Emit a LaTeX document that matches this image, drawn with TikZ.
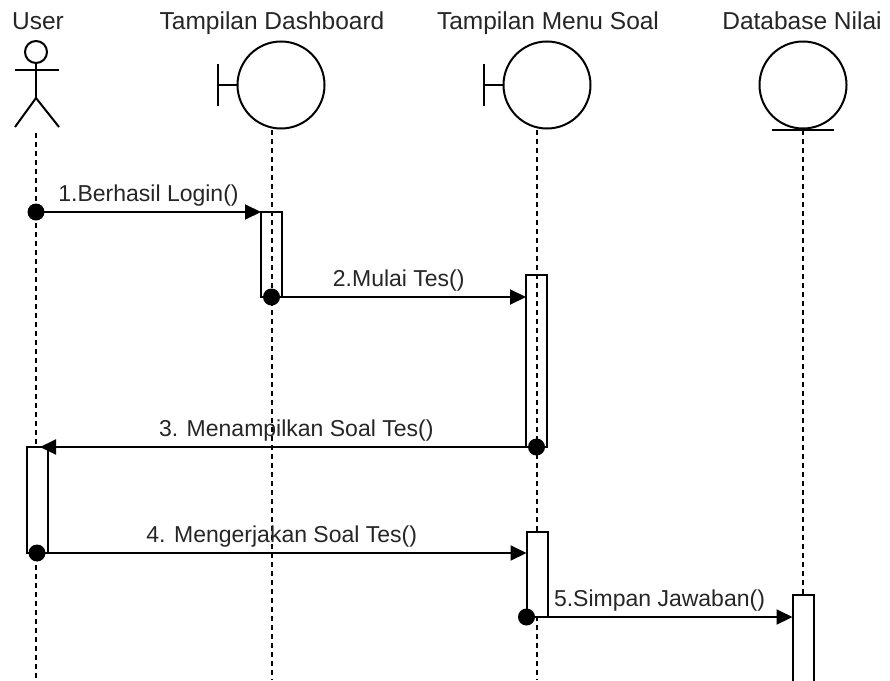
\documentclass[tikz,border=0pt]{standalone}
\usepackage{fontspec}
\setmainfont{Liberation Sans}
\usepackage{tikz}
\usetikzlibrary{arrows.meta}
\tikzset{headnode/.style = {anchor=base, inner sep=0pt, text=black!85, font=\fontsize{24.5}{28}\selectfont}}
\tikzset{lblnode/.style = {anchor=base, inner sep=0pt, yshift=11pt, text=black!85, font=\fontsize{23}{27}\selectfont}}
\tikzset{iconnode/.style = {draw, circle, line width=2pt, minimum size=87pt, inner sep=0pt}}
\tikzset{lifeline/.style = {line width=2pt, dash pattern=on 5pt off 4pt}}
\tikzset{actbox/.style = {draw, line width=2pt, minimum width=21pt, inner sep=0pt, outer sep=0pt}}
\tikzset{msg/.style = {line width=2pt, -{Triangle[length=16pt, width=15pt]}}}

\begin{document}
\begin{tikzpicture}[x=1pt, y=-1pt, line width=2pt]
    \clip (0,0) rectangle (890,680);
    \fill[white] (0,0) rectangle (890,680);

    % heads
    \node[headnode] (user) at (38, 29)  {User};
    \node[headnode] (dash) at (272, 29) {Tampilan Dashboard};
    \node[headnode] (menu) at (548, 29) {Tampilan Menu Soal};
    \node[headnode] (db)   at (802, 29) {Database Nilai};

    % actor
    \node[draw, circle, line width=2pt, minimum size=22pt, inner sep=0pt] (userhead) at (36, 52) {};
    \draw (15, 70) -- (59, 70);
    \draw (userhead.south) -- (36, 98);
    \draw (15, 127) -- (36, 98) -- (59, 127);

    % boundaries and entity
    \node[iconnode] (dashicon) at (281, 85) {};
    \draw (dashicon.west) -- ++(-19, 0) coordinate (dashbar);
    \draw ([yshift=21pt]dashbar) -- ([yshift=-21pt]dashbar);

    \node[iconnode] (menuicon) at (547, 85) {};
    \draw (menuicon.west) -- ++(-19, 0) coordinate (menubar);
    \draw ([yshift=21pt]menubar) -- ([yshift=-21pt]menubar);

    \node[iconnode] (dbicon) at (803, 85) {};
    \draw ([xshift=-31pt]dbicon.south) -- ([xshift=31pt]dbicon.south);

    % lifelines
    \coordinate (userlife) at (36, 133);
    \coordinate (dashlife) at (271.5, 130);
    \coordinate (menulife) at (537, 130);
    \coordinate (dblife)   at (803, 130);
    \draw[lifeline] (userlife) -- (36, 680);
    \draw[lifeline] (dashlife) -- (271.5, 680);
    \draw[lifeline] (menulife) -- (537, 680);
    \draw[lifeline] (dblife) -- (803, 680);

    % activations
    \node[actbox, minimum height=85pt] (dashact) at (271.5, 254.5) {};
    \node[actbox, minimum height=172pt] (menuact) at (536.5, 361) {};
    \node[actbox, fill=white, minimum height=106pt] (useract) at (37, 500) {};
    \node[actbox, fill=white, minimum height=85pt] (menuact2) at (537, 574.5) {};
    \node[actbox, fill=white, minimum height=95pt] (dbact) at (803, 642.5) {};

    % messages
    \coordinate (m1) at (userlife |- dashact.north);
    \draw[msg] (m1) -- (dashact.north west) node[lblnode, midway] {1.Berhasil Login()};
    \fill (m1) circle[radius=8.5pt];

    \draw[msg] (dashact.south) -- (menuact.west |- dashact.south) node[lblnode, midway] {2.Mulai Tes()};
    \fill (dashact.south) circle[radius=8.5pt];

    \draw[msg] (menuact.south) -- ([xshift=3pt]useract.north |- menuact.south) node[lblnode, midway, xshift=8pt] {3. Menampilkan Soal Tes()};
    \fill (menuact.south) circle[radius=8.5pt];

    \draw[msg] (useract.south) -- (menuact2.west |- useract.south) node[lblnode, midway] {4. Mengerjakan Soal Tes()};
    \fill (useract.south) circle[radius=8.5pt];

    \draw[msg] (menuact2.south west) -- (dbact.west |- menuact2.south) node[lblnode, midway] {5.Simpan Jawaban()};
    \fill (menuact2.south west) circle[radius=8.5pt];
\end{tikzpicture}
\end{document}
